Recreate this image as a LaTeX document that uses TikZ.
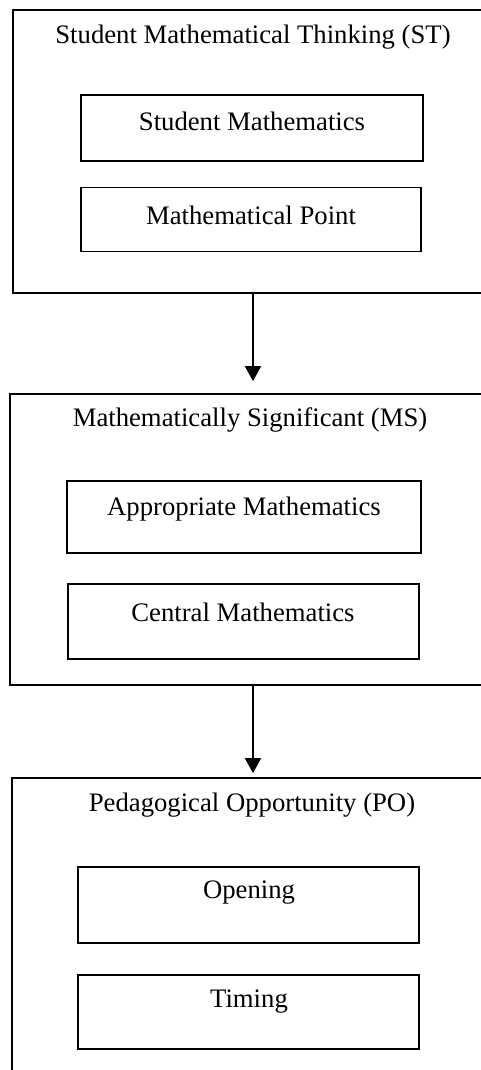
\documentclass[tikz,border=0pt]{standalone}
\usepackage{fontspec}
\setmainfont{Liberation Serif}
\usetikzlibrary{arrows.meta}
\begin{document}
\begin{tikzpicture}[x=1pt,y=-1pt,
  outerbox/.style={draw,line width=1.7pt,minimum width=480pt,inner sep=0pt},
  innerbox/.style={draw,line width=1.5pt,inner sep=0pt},
  lbl/.style={font=\fontsize{26.7}{30}\selectfont,inner sep=0pt},
  conn/.style={line width=1.7pt,-{Triangle[width=16pt,length=15pt]}}]
\useasboundingbox (0,0) rectangle (481,1070);
\clip (0,0) rectangle (481,1070);
% outer boxes
\node[outerbox,minimum width=480pt,minimum height=283pt] (st) at (253,151.5) {};
\node[outerbox,minimum width=486pt,minimum height=291pt] (ms) at (253,539.5) {};
\node[outerbox,minimum width=482pt,minimum height=330pt] (po) at (253,943) {};
% titles
\node[lbl] (stt) at (253,37) {Student Mathematical Thinking (ST)};
\node[lbl] (mst) at (250,420) {Mathematically Significant (MS)};
\node[lbl] (pot) at (252,805) {Pedagogical Opportunity (PO)};
% inner boxes
\node[innerbox,minimum width=342pt,minimum height=66pt] (sm) at (252,128) {};
\node[innerbox,minimum width=340pt,minimum height=64pt] (mp) at (251,219.5) {};
\node[innerbox,minimum width=354pt,minimum height=72pt] (am) at (244,517) {};
\node[innerbox,minimum width=351pt,minimum height=75pt] (cm) at (243.5,621.5) {};
\node[innerbox,minimum width=341pt,minimum height=76pt] (op) at (248.5,905) {};
\node[innerbox,minimum width=341pt,minimum height=74pt] (ti) at (248.5,1012) {};
% labels
\node[lbl] at (252,121) {Student Mathematics};
\node[lbl] at (251,215) {Mathematical Point};
\node[lbl] at (244,509) {Appropriate Mathematics};
\node[lbl] at (243,612) {Central Mathematics};
\node[lbl] at (249,893) {Opening};
\node[lbl] at (249,1002) {Timing};
% connectors
\draw[conn,shorten >=12pt] (st.south) -- (ms.north);
\draw[conn,shorten >=4pt] (ms.south) -- (po.north);
\end{tikzpicture}
\end{document}
